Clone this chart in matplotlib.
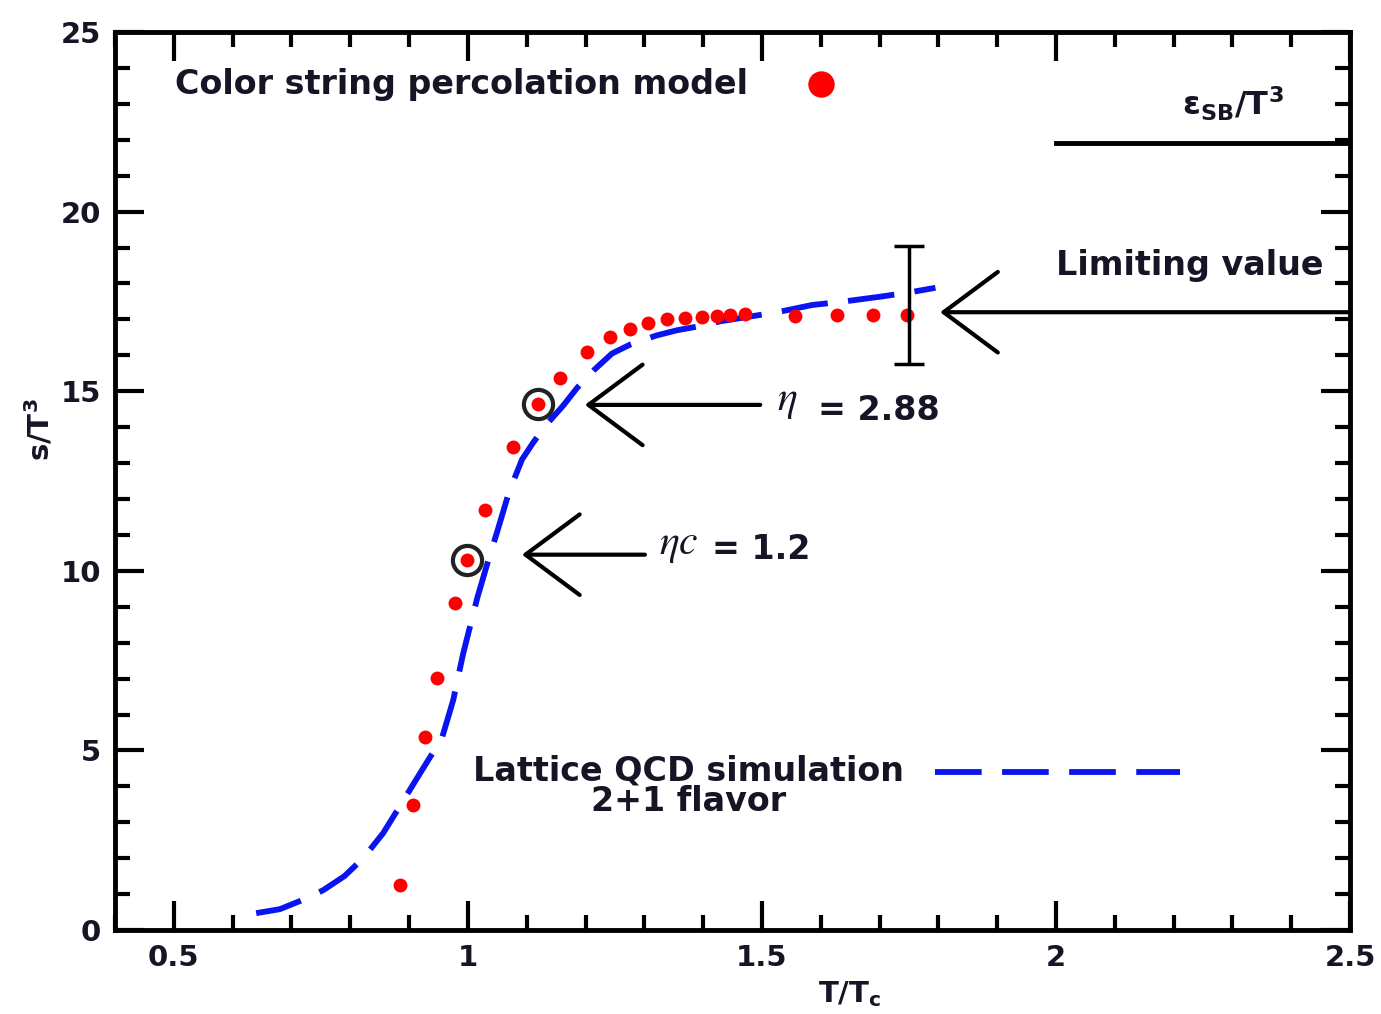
import matplotlib
matplotlib.use("Agg")
import matplotlib.pyplot as plt
from matplotlib.ticker import MultipleLocator

# color string percolation model points (s/T^3 vs T/Tc)
cspm_x = [0.885, 0.907, 0.927, 0.948, 0.978, 0.999, 1.029, 1.077, 1.119, 1.157,
          1.203, 1.242, 1.276, 1.306, 1.339, 1.369, 1.398, 1.424, 1.446, 1.471,
          1.556, 1.628, 1.689, 1.747]
cspm_y = [1.25, 3.48, 5.38, 7.02, 9.1, 10.3, 11.7, 13.45, 14.65, 15.38,
          16.1, 16.5, 16.74, 16.9, 17.0, 17.05, 17.07, 17.1, 17.13, 17.15,
          17.1, 17.13, 17.13, 17.13]
circled = [5, 8]  # eta_c = 1.2 and eta = 2.88

# lattice QCD 2+1 flavor curve
qcd_x = [0.64, 0.68, 0.727, 0.754, 0.79, 0.822, 0.856, 0.89, 0.92, 0.956,
         0.975, 0.992, 1.016, 1.033, 1.05, 1.07, 1.092, 1.111, 1.135, 1.162,
         1.186, 1.215, 1.245, 1.276, 1.32, 1.356, 1.39, 1.43, 1.468, 1.526,
         1.585, 1.64, 1.70, 1.75, 1.795]
qcd_y = [0.47, 0.58, 0.89, 1.11, 1.5, 2.0, 2.7, 3.6, 4.4, 5.35,
         6.4, 7.7, 9.25, 10.2, 11.1, 12.2, 13.1, 13.57, 14.1, 14.6,
         15.1, 15.6, 16.05, 16.3, 16.55, 16.7, 16.8, 16.95, 17.05, 17.2,
         17.4, 17.5, 17.63, 17.75, 17.88]

# limiting value with error bar, Stefan-Boltzmann limit
limit_x = 1.75
limit_y = 17.2
limit_err = [[1.45], [1.85]]
sb_y = 21.9

txt = "#151525"
bold = dict(family="DejaVu Sans", weight="bold", color=txt)

fig = plt.figure(figsize=(13.81, 10.14), dpi=100)
ax = fig.add_axes([0.0833, 0.0828, 0.8943, 0.8856])

ax.plot(qcd_x, qcd_y, color="#0a14f0", lw=4.2, dashes=(8, 3.5), zorder=2)
ax.plot(cspm_x, cspm_y, "o", color="red", ms=10, mec="none", zorder=3)
ax.plot([cspm_x[i] for i in circled], [cspm_y[i] for i in circled], "o",
        mfc="none", mec="#222222", mew=3, ms=21, zorder=4)

ax.errorbar([limit_x], [limit_y], yerr=limit_err, fmt="none", ecolor="black",
            elinewidth=2.5, capsize=11, capthick=2.5, zorder=3)

# arrows
arrow = dict(arrowstyle="->,head_length=1.95,head_width=1.45", color="black",
             lw=3, mutation_scale=20, shrinkA=0, shrinkB=0)
ax.annotate("", xy=(1.803, 17.2), xytext=(2.5, 17.2), arrowprops=arrow)
ax.annotate("", xy=(1.199, 14.62), xytext=(1.497, 14.62), arrowprops=arrow)
ax.annotate("", xy=(1.092, 10.45), xytext=(1.301, 10.45), arrowprops=arrow)
ax.plot([2.0, 2.5], [sb_y, sb_y], color="black", lw=3.5)

# labels inside
ax.text(0.502, 23.55, "Color string percolation model", fontsize=24,
        va="center", ha="left", **bold)
ax.plot([1.6], [23.55], "o", color="red", ms=19, mec="none")
ax.text(2.30, 23.0, r"ε$_\mathregular{SB}$/T$^\mathregular{3}$", fontsize=23,
        ha="center", va="center", **bold)
ax.text(2.455, 18.5, "Limiting value", fontsize=24, ha="right", va="center",
        **bold)
ax.text(1.375, 4.0, "Lattice QCD simulation\n2+1 flavor", fontsize=24,
        ha="center", va="center", linespacing=0.92, **bold)
ax.plot([1.795, 2.21], [4.4, 4.4], color="#0a14f0", lw=4.2, dashes=(8, 3.5))

ax.text(1.525, 14.75, r"$\eta$", fontsize=30, ha="left", va="center",
        math_fontfamily="stix", color=txt)
ax.text(1.595, 14.45, "= 2.88", fontsize=24, ha="left", va="center", **bold)
ax.text(1.325, 10.75, r"$\eta c$", fontsize=30, ha="left", va="center",
        math_fontfamily="stix", color=txt)
ax.text(1.415, 10.6, "= 1.2", fontsize=24, ha="left", va="center", **bold)

ax.set_xlim(0.4, 2.5)
ax.set_ylim(0, 25)
ax.xaxis.set_major_locator(MultipleLocator(0.5))
ax.xaxis.set_minor_locator(MultipleLocator(0.1))
ax.yaxis.set_major_locator(MultipleLocator(5))
ax.yaxis.set_minor_locator(MultipleLocator(1))
ax.set_xticks([0.5, 1, 1.5, 2, 2.5])
ax.set_xticklabels(["0.5", "1", "1.5", "2", "2.5"])

ax.tick_params(which="both", direction="in", top=True, right=True, width=3,
               labelsize=21, colors="black")
ax.tick_params(which="major", length=21, pad=10)
ax.tick_params(which="minor", length=11)
for lab in ax.get_xticklabels() + ax.get_yticklabels():
    lab.set_family("DejaVu Sans")
    lab.set_weight("bold")
    lab.set_color(txt)
for sp in ax.spines.values():
    sp.set_linewidth(3.5)

ax.set_xlabel(r"T/T$_\mathregular{c}$", fontsize=21, **bold)
ax.xaxis.set_label_coords(0.595, -0.055)
ax.set_ylabel(r"s/T$^\mathregular{3}$", fontsize=21, **bold)
ax.yaxis.set_label_coords(-0.048, 0.557)

fig.savefig("out.png", dpi=100)
